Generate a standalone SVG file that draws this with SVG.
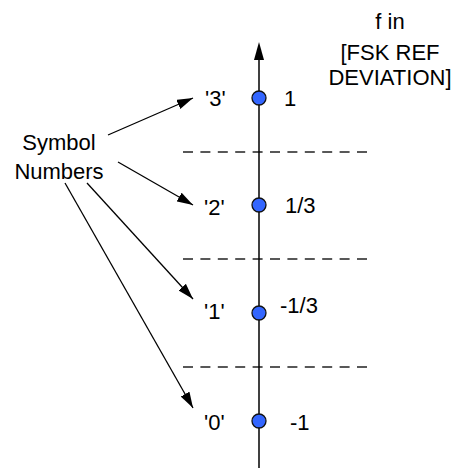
<svg xmlns="http://www.w3.org/2000/svg" width="455" height="468" viewBox="0 0 455 468">
<defs>
<style>
text{font-family:"Liberation Sans",Arial,sans-serif;font-size:22px;fill:#000}
.dash{stroke:#222;stroke-width:1.3;stroke-dasharray:10 7.4;fill:none}
.conn{stroke:#000;stroke-width:1.3;fill:none}
.dot{fill:#3366ff;stroke:#111;stroke-width:1.3}
</style>
<marker id="ah" markerUnits="userSpaceOnUse" markerWidth="17" markerHeight="11" refX="16" refY="5" orient="auto">
<path d="M0,0 L16,5 L0,10 z" fill="#000"/>
</marker>
</defs>
<rect width="455" height="468" fill="#fff"/>
<g id="grid">
<line class="dash" x1="183" y1="152" x2="367" y2="152"/>
<line class="dash" x1="183" y1="259" x2="367" y2="259"/>
<line class="dash" x1="183" y1="367" x2="367" y2="367"/>
</g>
<g id="axis">
<line x1="259" y1="468" x2="259" y2="58" stroke="#000" stroke-width="1.5"/>
<polygon points="259,42 254,60 264,60" fill="#000"/>
<text x="390" y="29" text-anchor="middle">f in</text>
<text x="390" y="60" text-anchor="middle">[FSK REF</text>
<text x="390" y="85" text-anchor="middle">DEVIATION]</text>
</g>
<g id="sym3">
<circle class="dot" cx="259" cy="98" r="7"/>
<text x="205" y="106">'3'</text>
<text x="284" y="106">1</text>
</g>
<g id="sym2">
<circle class="dot" cx="259" cy="205" r="7"/>
<text x="204" y="215">'2'</text>
<text x="285" y="213">1/3</text>
</g>
<g id="sym1">
<circle class="dot" cx="259" cy="313" r="7"/>
<text x="204" y="319">'1'</text>
<text x="280" y="313">-1/3</text>
</g>
<g id="sym0">
<circle class="dot" cx="259" cy="421" r="7"/>
<text x="204" y="430">'0'</text>
<text x="290" y="430">-1</text>
</g>
<g id="label">
<text x="59" y="150" text-anchor="middle">Symbol</text>
<text x="59" y="179" text-anchor="middle">Numbers</text>
</g>
<g id="connectors">
<line class="conn" x1="108" y1="135" x2="193" y2="98" marker-end="url(#ah)"/>
<line class="conn" x1="118" y1="162" x2="193" y2="205" marker-end="url(#ah)"/>
<line class="conn" x1="87" y1="183" x2="193" y2="299" marker-end="url(#ah)"/>
<line class="conn" x1="65" y1="183" x2="193" y2="408" marker-end="url(#ah)"/>
</g>
</svg>
